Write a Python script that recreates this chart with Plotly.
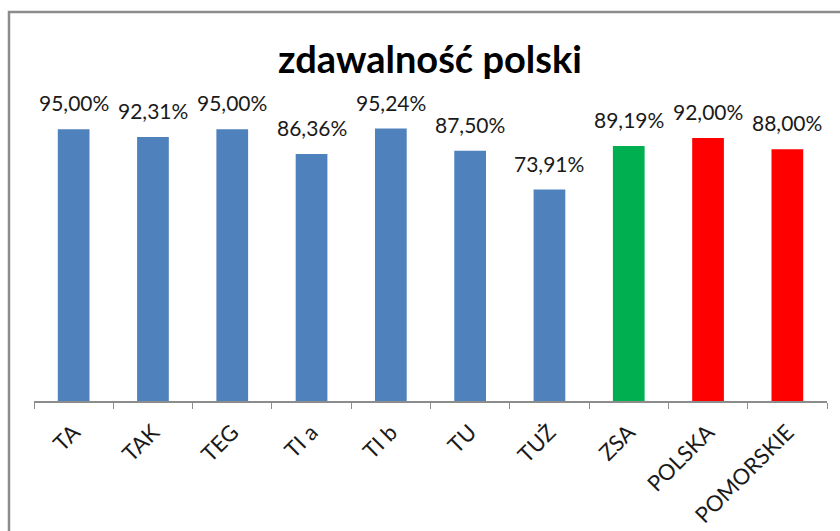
import plotly.graph_objects as go

categories = ["TA", "TAK", "TEG", "TI a", "TI b", "TU", "TUŻ", "ZSA", "POLSKA", "POMORSKIE"]
values = [95.00, 92.31, 95.00, 86.36, 95.24, 87.50, 73.91, 89.19, 92.00, 88.00]
colors = ["#4F81BD"] * 7 + ["#00B050", "#FF0000", "#FF0000"]
labels = [f"{v:.2f}%".replace(".", ",") for v in values]

fig = go.Figure(go.Bar(
    x=categories,
    y=[v / 100 for v in values],
    marker=dict(color=colors, line=dict(width=0)),
    width=0.4,
    cliponaxis=False,
    hoverinfo="skip",
))

for c, v, t in zip(categories, values, labels):
    fig.add_annotation(
        x=c, y=v / 100, text=t, showarrow=False,
        xanchor="center", yanchor="bottom", yshift=12,
        font=dict(family="Lato", size=21, color="#1a1a1a"),
    )

W, H = 840, 531
L, R, T, B = 34, 13, 115, 130
pw, ph = W - L - R, H - T - B

def px_to_paper_x(px):
    return (px - L) / pw

def px_to_paper_y(py):
    return (H - B - py) / ph

fig.update_layout(
    width=W, height=H,
    margin=dict(l=L, r=R, t=T, b=B),
    paper_bgcolor="white",
    plot_bgcolor="white",
    showlegend=False,
    title=dict(
        text="<b>zdawalność polski</b>",
        x=430 / W, xanchor="center",
        y=1 - 60 / H, yanchor="middle",
        font=dict(family="Lato", size=38, color="black"),
    ),
    xaxis=dict(
        type="category",
        showline=True, linecolor="#8c8c8c", linewidth=1.5,
        ticks="outside", tickson="boundaries", ticklen=6, tickcolor="#8c8c8c",
        tickangle=-45,
        ticklabelstandoff=8,
        tickfont=dict(family="Lato", size=22, color="#1a1a1a"),
        showgrid=False,
        automargin=False,
    ),
    yaxis=dict(visible=False, range=[0, 1], showgrid=False),
    shapes=[dict(
        type="rect", xref="paper", yref="paper",
        x0=px_to_paper_x(9), x1=px_to_paper_x(900),
        y0=px_to_paper_y(600), y1=px_to_paper_y(12),
        line=dict(color="#8c8c8c", width=2.5),
        fillcolor="rgba(0,0,0,0)",
        layer="below",
    )],
)

fig.write_html(
    "out.html",
    config={"displayModeBar": False},
    post_script="document.body.style.margin='0';",
)
